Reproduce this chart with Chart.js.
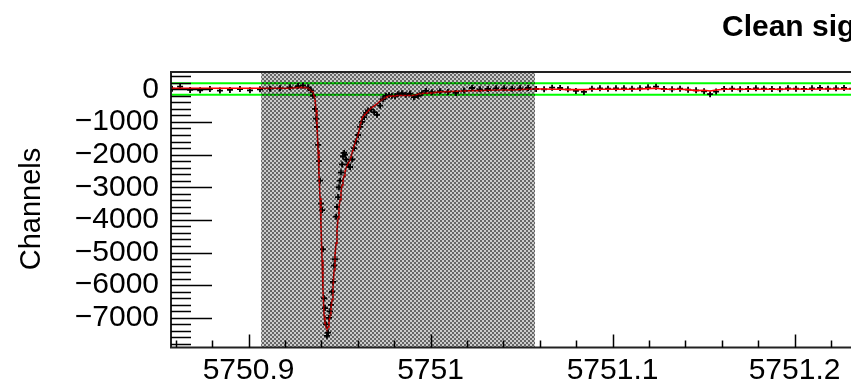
<!DOCTYPE html>
<html>
<head>
<meta charset="utf-8">
<title>Clean signal</title>
<script src="https://cdn.jsdelivr.net/npm/chart.js@4.4.1/dist/chart.umd.min.js"></script>
<style>
  html, body { margin: 0; padding: 0; background: #fff; overflow: hidden; }
  #wrap { position: relative; width: 1040px; height: 379px; }
</style>
</head>
<body>
<div id="wrap"><canvas id="signalChart"></canvas></div>
<script>
const chartTitle = "Clean signal";
const yAxisTitle = "Channels";

// wavelength bins (x)
const xValues = [
  5750.8580, 5750.8624, 5750.8679, 5750.8734, 5750.8788, 5750.8843, 5750.8898, 5750.8953,
  5750.9008, 5750.9063, 5750.9118, 5750.9173, 5750.9228, 5750.9272, 5750.9299, 5750.9327,
  5750.9343, 5750.9354, 5750.9365, 5750.9371, 5750.9376, 5750.9382, 5750.9387, 5750.9393,
  5750.9398, 5750.9404, 5750.9409, 5750.9415, 5750.9420, 5750.9426, 5750.9431, 5750.9437,
  5750.9442, 5750.9448, 5750.9453, 5750.9459, 5750.9464, 5750.9470, 5750.9475, 5750.9481,
  5750.9486, 5750.9492, 5750.9497, 5750.9503, 5750.9508, 5750.9514, 5750.9519, 5750.9525,
  5750.9530, 5750.9536, 5750.9547, 5750.9558, 5750.9569, 5750.9580, 5750.9591, 5750.9602,
  5750.9613, 5750.9624, 5750.9635, 5750.9646, 5750.9657, 5750.9673, 5750.9690, 5750.9706,
  5750.9723, 5750.9739, 5750.9755, 5750.9772, 5750.9788, 5750.9805, 5750.9821, 5750.9843,
  5750.9865, 5750.9887, 5750.9909, 5750.9931, 5750.9953, 5750.9975, 5751.0008, 5751.0052,
  5751.0096, 5751.0140, 5751.0184, 5751.0228, 5751.0272, 5751.0316, 5751.0360, 5751.0404,
  5751.0448, 5751.0492, 5751.0536, 5751.0580, 5751.0624, 5751.0668, 5751.0712, 5751.0755,
  5751.0799, 5751.0843, 5751.0887, 5751.0931, 5751.0975, 5751.1019, 5751.1063, 5751.1107,
  5751.1151, 5751.1195, 5751.1239, 5751.1283, 5751.1327, 5751.1371, 5751.1415, 5751.1459,
  5751.1503, 5751.1536, 5751.1569, 5751.1613, 5751.1657, 5751.1701, 5751.1745, 5751.1788,
  5751.1832, 5751.1876, 5751.1920, 5751.1964, 5751.2008, 5751.2052, 5751.2096, 5751.2140,
  5751.2184, 5751.2228, 5751.2272, 5751.2316, 5751.2360, 5751.2404, 5751.2448
];

// measured channels (black markers)
const dataValues = [
  20, 80, -20, -30, 10, -40, -20, 10,
  -30, 0, 20, 30, 60, 100, 110, 60,
  -30, -200, -600, -900, -1150, -1700, -2200, -2800,
  -3500, -3700, -4900, -6400, -6700, -7200, -7550, -7450,
  -7000, -6800, -6600, -6200, -5900, -5400, -5200, -3900,
  -3600, -3300, -3000, -2800, -2550, -2300, -2050, -1950,
  -2000, -2150, -2300, -2380, -2150, -1800, -1600, -1400,
  -1150, -1000, -850, -720, -650, -620, -700, -780,
  -500, -300, -200, -180, -200, -210, -150, -120,
  -170, -130, -240, -200, -120, -50, -90, -60,
  -80, -110, -40, 40, 0, 10, 30, 30,
  20, 30, 40, 10, 0, 50, 40, 0,
  -50, -80, 20, 30, 20, 30, 30, 20,
  30, 60, 80, 10, 0, 20, -10, -30,
  -60, -150, -70, 10, 20, 0, 10, 30,
  20, 10, 0, 30, 20, 10, 30, 40,
  20, 30, 40, 20, 10, 20, 10
];

// smoothed signal (red)
const fitValues = [
  30, 30, 30, 30, 30, 30, 30, 30,
  30, 30, 30, 30, 30, 50, 60, 40,
  -50, -80, -300, -640, -1090, -1860, -2620, -3330,
  -4160, -5230, -6150, -6920, -7160, -7280, -7340, -7280,
  -7130, -6920, -6700, -6450, -6090, -5540, -5080, -4710,
  -4310, -3940, -3600, -3390, -3150, -2930, -2780, -2660,
  -2530, -2410, -2260, -2170, -1950, -1740, -1550, -1400,
  -1120, -880, -790, -730, -660, -570, -510, -450,
  -360, -300, -240, -210, -210, -200, -190, -190,
  -190, -190, -180, -150, -130, -120, -110, -80,
  -70, -60, -50, -40, -40, -30, -20, -20,
  -20, -10, 0, 10, 10, 0, 0, -10,
  -10, -10, 0, 0, 0, 0, 0, 0,
  10, 20, 30, 0, 0, 0, -10, -40,
  -30, -50, -20, 0, 0, 0, 0, 0,
  0, 0, 0, 10, 10, 0, 0, 10,
  10, 10, 10, 10, 0, 0, 0
];

// green band
const thresholdHigh = 185;
const thresholdLow = -165;

// hatched window
const shadeStart = 5750.9069;
const shadeEnd = 5751.0574;

const xMin = 5750.8574;
const xMax = 5751.3129;
const yMin = -7908;
const yMax = 530;

const xMajorTicks = [5750.9, 5751, 5751.1, 5751.2];
const xTickLabels = ["5750.9", "5751", "5751.1", "5751.2"];
const yMajorTicks = [0, -1000, -2000, -3000, -4000, -5000, -6000, -7000];
const yTickLabels = ["0", "\u22121000", "\u22122000", "\u22123000", "\u22124000", "\u22125000", "\u22126000", "\u22127000"];
const xMinorStep = 0.02;
const yMinorStep = 200;

const fontName = "'Liberation Sans', Arial, Helvetica, sans-serif";

function makeHatch() {
  const c = document.createElement("canvas");
  c.width = 4;
  c.height = 4;
  const g = c.getContext("2d");
  g.fillStyle = "rgba(0, 0, 0, 0.6)";
  g.fillRect(0, 0, 2, 2);
  g.fillRect(2, 2, 2, 2);
  g.fillStyle = "rgba(0, 0, 0, 0.2)";
  g.fillRect(2, 0, 2, 2);
  g.fillRect(0, 2, 2, 2);
  return g.createPattern(c, "repeat");
}

const rootFrame = {
  id: "rootFrame",
  afterDatasetsDraw(chart) {
    const ctx = chart.ctx;
    const area = chart.chartArea;
    const xs = chart.scales.x;
    const ys = chart.scales.y;

    ctx.save();
    // hatched window drawn over the curves
    const x0 = xs.getPixelForValue(shadeStart);
    const x1 = xs.getPixelForValue(shadeEnd);
    ctx.fillStyle = makeHatch();
    ctx.fillRect(x0, area.top, x1 - x0, area.bottom - area.top);

    // frame
    ctx.strokeStyle = "#222";
    ctx.lineWidth = 2;
    ctx.strokeRect(area.left, area.top, area.right - area.left, area.bottom - area.top);

    // ticks pointing inward
    ctx.strokeStyle = "#000";
    ctx.lineWidth = 1.5;
    ctx.beginPath();
    for (let v = -7800; v <= yMax; v += yMinorStep) {
      const y = Math.round(ys.getPixelForValue(v)) + 0.5;
      const len = v % 1000 === 0 ? 41 : 20;
      ctx.moveTo(area.left, y);
      ctx.lineTo(area.left + len, y);
    }
    for (let i = 0; i * xMinorStep + 5750.86 <= xMax; i++) {
      const v = 5750.86 + i * xMinorStep;
      const x = Math.round(xs.getPixelForValue(v)) + 0.5;
      const major = i % 5 === 2;
      ctx.moveTo(x, area.bottom);
      ctx.lineTo(x, area.bottom - (major ? 13 : 7));
    }
    ctx.stroke();

    // title and axis title
    ctx.fillStyle = "#000";
    ctx.font = "bold 30px " + fontName;
    ctx.textAlign = "left";
    ctx.textBaseline = "alphabetic";
    ctx.fillText(chartTitle, 722, 36);

    ctx.font = "29px " + fontName;
    ctx.translate(40, 209);
    ctx.rotate(-Math.PI / 2);
    ctx.textAlign = "center";
    ctx.fillText(yAxisTitle, 0, 0);
    ctx.restore();
  }
};

function buildPoints(values) {
  return xValues.map((x, i) => ({ x: x, y: values[i] }));
}

const ctx = document.getElementById("signalChart").getContext("2d");
new Chart(ctx, {
  type: "line",
  data: {
    datasets: [
      {
        label: "fit",
        data: buildPoints(fitValues),
        borderColor: "#ff0000",
        borderWidth: 1.6,
        pointRadius: 0,
        tension: 0,
        order: 1,
      },
      {
        label: "data",
        data: buildPoints(dataValues),
        showLine: false,
        pointStyle: "cross",
        pointRadius: 3,
        pointBorderColor: "#000",
        pointBorderWidth: 1.8,
        order: 2,
      },
      {
        label: "upper",
        data: [{ x: xMin, y: thresholdHigh }, { x: xMax, y: thresholdHigh }],
        borderColor: "#00ff00",
        borderWidth: 2,
        pointRadius: 0,
        order: 3,
      },
      {
        label: "lower",
        data: [{ x: xMin, y: thresholdLow }, { x: xMax, y: thresholdLow }],
        borderColor: "#00ff00",
        borderWidth: 2,
        pointRadius: 0,
        order: 3,
      },
    ],
  },
  options: {
    responsive: true,
    maintainAspectRatio: false,
    animation: false,
    devicePixelRatio: 1,
    layout: { padding: { left: 0, top: 72, right: 40, bottom: 0 } },
    plugins: {
      legend: { display: false },
      title: { display: false },
      tooltip: { enabled: false },
    },
    scales: {
      x: {
        type: "linear",
        min: xMin,
        max: xMax,
        grid: { display: false, drawTicks: false },
        border: { display: false },
        afterFit: (scale) => { scale.height = 31.5; },
        afterBuildTicks: (scale) => { scale.ticks = xMajorTicks.map((v) => ({ value: v })); },
        ticks: {
          autoSkip: false,
          maxRotation: 0,
          padding: 5,
          color: "#000",
          font: { family: fontName, size: 30 },
          callback: (value, index) => xTickLabels[index],
        },
      },
      y: {
        type: "linear",
        min: yMin,
        max: yMax,
        grid: { display: false, drawTicks: false },
        border: { display: false },
        afterFit: (scale) => { scale.width = 171; },
        afterBuildTicks: (scale) => { scale.ticks = yMajorTicks.map((v) => ({ value: v })); },
        ticks: {
          autoSkip: false,
          padding: 12,
          color: "#000",
          font: { family: fontName, size: 30 },
          callback: (value, index) => yTickLabels[index],
        },
      },
    },
  },
  plugins: [rootFrame],
});
</script>
</body>
</html>
